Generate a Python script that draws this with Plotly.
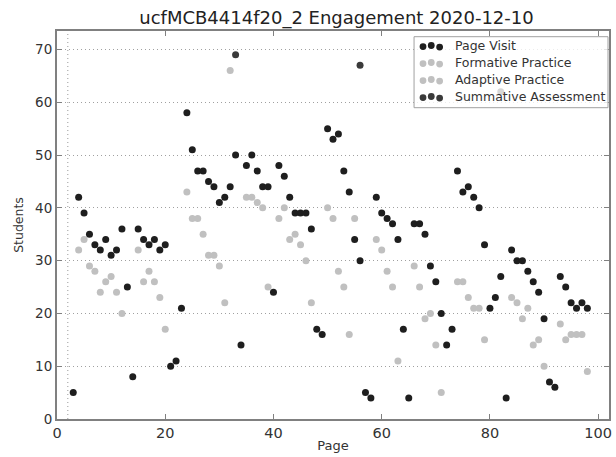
import plotly.graph_objects as go

pv_pages = list(range(3, 99))
pv_students = [5, 42, 39, 35, 33, 32, 34, 31, 32, 36, 25, 8, 36, 34, 33, 34, 32, 33, 10, 11,
               21, 58, 51, 47, 47, 45, 44, 41, 42, 44, 50, 14, 48, 50, 47, 44, 44, 24, 48, 46,
               42, 39, 39, 39, 36, 17, 16, 55, 53, 54, 47, 43, 34, 30, 5, 4, 42, 39, 38, 37,
               34, 17, 4, 37, 37, 35, 29, 26, 20, 14, 17, 47, 43, 44, 42, 40, 33, 21, 23, 27,
               4, 32, 30, 30, 28, 26, 24, 19, 7, 6, 27, 25, 22, 21, 22, 21]

fp_pages = [4, 5, 6, 7, 8, 9, 10, 11, 12, 15, 16, 17, 18, 19, 20, 24, 25, 26, 27, 28,
            29, 30, 31, 32, 35, 36, 37, 38, 39, 41, 42, 43, 44, 45, 46, 47, 50, 51, 52, 53,
            54, 55, 59, 60, 61, 62, 63, 66, 67, 68, 69, 70, 71]
fp_students = [32, 34, 29, 28, 24, 26, 27, 24, 20, 32, 26, 28, 26, 23, 17, 43, 38, 38, 35, 31,
               31, 29, 22, 66, 42, 42, 41, 40, 25, 38, 40, 34, 35, 33, 30, 22, 40, 38, 28, 25,
               16, 38, 34, 32, 28, 25, 11, 29, 25, 19, 20, 14, 5]

ap_pages = [74, 75, 76, 77, 78, 79, 84, 85, 86, 87, 88, 89, 90, 93, 94, 95, 96, 97, 98]
ap_students = [26, 26, 23, 21, 21, 15, 23, 22, 19, 21, 14, 15, 10, 18, 15, 16, 16, 16, 9]

sa_pages = [33, 56, 82]
sa_students = [69, 67, 62]

series_names = ["Page Visit", "Formative Practice", "Adaptive Practice", "Summative Assessment"]
series_colors = ["#1e1e1e", "#c0c0c0", "#c0c0c0", "#3a3a3a"]

x_ticks = [0, 20, 40, 60, 80, 100]
y_ticks = [0, 10, 20, 30, 40, 50, 60, 70]

W, H = 616, 457
ML, MR, MT, MB = 57, 4, 31, 38
PW, PH = W - ML - MR, H - MT - MB


def px_to_paper(px, py):
    return (px - ML) / PW, (H - MB - py) / PH


fig = go.Figure()
all_series = [(pv_pages, pv_students), (fp_pages, fp_students),
              (ap_pages, ap_students), (sa_pages, sa_students)]
for (xs, ys), name, color in zip(all_series, series_names, series_colors):
    fig.add_trace(go.Scatter(x=xs, y=ys, mode="markers", name=name, showlegend=False,
                             marker=dict(color=color, size=7, line=dict(width=0))))

# dotted vertical reference line
fig.add_shape(type="line", xref="x", yref="paper", x0=2, x1=2, y0=0, y1=1,
              line=dict(color="#999999", width=1, dash="1px,3px"), layer="below")

# matplotlib-style legend box (three dots per entry)
bx0, by0 = px_to_paper(416, 107.7)
bx1, by1 = px_to_paper(611, 36.7)
fig.add_shape(type="rect", xref="paper", yref="paper", x0=bx0, x1=bx1, y0=by0, y1=by1,
              fillcolor="rgba(255,255,255,0.8)", line=dict(color="#a0a0a0", width=1))
row_y0, row_step = 45.5, 17
dot_dx = [425, 433.3, 441.7]
dot_dy = [1.1, 0.0, 1.6]
for i, (name, color) in enumerate(zip(series_names, series_colors)):
    cy = row_y0 + i * row_step
    for dx, dy in zip(dot_dx, dot_dy):
        ax, ay = px_to_paper(dx, cy + dy)
        fig.add_shape(type="circle", xref="paper", yref="paper", xsizemode="pixel",
                      ysizemode="pixel", xanchor=ax, yanchor=ay, x0=-3.4, x1=3.4, y0=-3.4, y1=3.4,
                      fillcolor=color, line=dict(width=0))
    tx, ty = px_to_paper(455, cy)
    fig.add_annotation(x=tx, y=ty, xref="paper", yref="paper", text=name, showarrow=False,
                       xanchor="left", yanchor="middle",
                       font=dict(size=12.5, color="#333333", family="DejaVu Sans"))

axis_common = dict(showline=True, linecolor="#808080", linewidth=2, mirror="ticks",
                   ticks="inside", ticklen=5, tickcolor="#808080", zeroline=False)
fig.update_xaxes(range=[0, 102], tickvals=x_ticks, showgrid=False,
                 tickfont=dict(size=14.5, color="#333333"),
                 title=dict(text="Page", font=dict(size=13, color="#333333"), standoff=0),
                 **axis_common)
fig.update_yaxes(range=[0, 73.5], tickvals=y_ticks, showgrid=True,
                 gridcolor="#a0a0a0", griddash="1px,3px", gridwidth=1,
                 tickfont=dict(size=13.5, color="#333333"),
                 title=dict(text="Students", font=dict(size=12.5, color="#333333"), standoff=9),
                 **axis_common)

fig.update_layout(
    width=W, height=H,
    margin=dict(l=ML, r=MR, t=MT, b=MB),
    paper_bgcolor="white", plot_bgcolor="white",
    font=dict(family="DejaVu Sans", color="#333333"),
    title=dict(text="ucfMCB4414f20_2 Engagement 2020-12-10", x=(ML + PW / 2 + 2) / W,
               xanchor="center", y=1 - 11.5 / H, yanchor="top",
               font=dict(size=18, color="#222222")),
    showlegend=False,
)

fig.write_html("out.html", config={"displayModeBar": False},
               post_script="document.body.style.margin='0px';")
